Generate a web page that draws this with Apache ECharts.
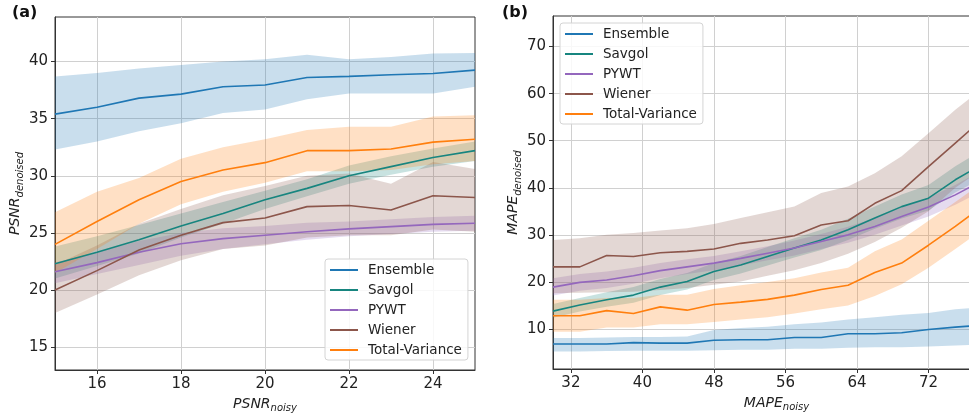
<!DOCTYPE html>
<html><head><meta charset="utf-8">
<script src="https://cdn.jsdelivr.net/npm/echarts@6/dist/echarts.min.js"></script>
<style>html,body{margin:0;padding:0;background:#fff}#c{width:969px;height:415px}</style>
</head><body><div id="c"></div>
<script>
// ---------- shared ----------
const seriesNames = ['Ensemble', 'Savgol', 'PYWT', 'Wiener', 'Total-Variance'];
const seriesColors = ['#1f77b4', '#17857f', '#9467bd', '#8c564b', '#ff7f0e'];

// ---------- panel (a): PSNR ----------
const psnrNoisy = [15, 16, 17, 18, 19, 20, 21, 22, 23, 24, 25];
const psnrTicksX = [16, 18, 20, 22, 24];
const psnrTicksY = [15, 20, 25, 30, 35, 40];

const psnrEnsemble   = [35.4, 36.0, 36.8, 37.15, 37.8, 37.95, 38.6, 38.7, 38.85, 38.95, 39.25];
const psnrEnsembleHi = [38.7, 39.0, 39.4, 39.7, 40.0, 40.2, 40.6, 40.2, 40.4, 40.7, 40.75];
const psnrEnsembleLo = [32.3, 33.0, 33.9, 34.6, 35.5, 35.8, 36.7, 37.2, 37.2, 37.2, 37.8];

const psnrSavgol   = [22.3, 23.3, 24.4, 25.6, 26.7, 27.9, 28.9, 30.0, 30.8, 31.6, 32.2];
const psnrSavgolHi = [23.8, 24.7, 25.7, 26.7, 27.7, 28.7, 29.7, 30.9, 31.7, 32.4, 33.0];
const psnrSavgolLo = [21.0, 22.1, 23.2, 24.6, 25.8, 27.1, 28.2, 29.3, 30.1, 30.8, 31.3];

const psnrPywt   = [21.6, 22.4, 23.3, 24.05, 24.5, 24.8, 25.1, 25.35, 25.55, 25.75, 25.85];
const psnrPywtHi = [22.4, 23.3, 24.3, 25.0, 25.4, 25.6, 25.9, 26.0, 26.2, 26.4, 26.5];
const psnrPywtLo = [20.6, 21.4, 22.2, 23.0, 23.6, 24.0, 24.4, 24.7, 24.9, 25.1, 25.2];

const psnrWiener   = [20.0, 21.7, 23.5, 24.8, 25.9, 26.3, 27.3, 27.4, 27.0, 28.25, 28.1];
const psnrWienerHi = [22.2, 23.9, 25.8, 27.1, 28.3, 29.1, 30.0, 30.2, 29.3, 31.2, 30.6];
const psnrWienerLo = [18.0, 19.6, 21.3, 22.6, 23.6, 23.9, 24.6, 24.8, 24.8, 25.3, 25.1];

const psnrTV   = [24.0, 26.0, 27.9, 29.5, 30.5, 31.15, 32.2, 32.2, 32.35, 32.95, 33.2];
const psnrTVHi = [26.8, 28.6, 29.8, 31.5, 32.5, 33.2, 34.0, 34.3, 34.3, 35.2, 35.3];
const psnrTVLo = [21.5, 23.6, 25.8, 27.5, 28.6, 29.4, 30.4, 30.4, 30.5, 31.0, 31.3];

// ---------- panel (b): MAPE ----------
const mapeNoisy = [30, 33, 36, 39, 42, 45, 48, 51, 54, 57, 60, 63, 66, 69, 72, 75, 78];
const mapeTicksX = [32, 40, 48, 56, 64, 72, 80];
const mapeTicksY = [10, 20, 30, 40, 50, 60, 70];

const mapeEnsemble   = [6.8, 6.8, 6.8, 7.1, 7.0, 7.0, 7.6, 7.7, 7.7, 8.2, 8.2, 9.0, 9.0, 9.2, 9.9, 10.4, 10.8];
const mapeEnsembleHi = [8.1, 8.1, 8.2, 8.3, 8.3, 8.4, 9.8, 10.2, 10.5, 11.0, 11.4, 12.0, 12.5, 13.0, 13.4, 14.2, 14.6];
const mapeEnsembleLo = [5.2, 5.2, 5.3, 5.4, 5.4, 5.4, 5.5, 5.6, 5.6, 5.8, 5.8, 6.0, 6.1, 6.1, 6.3, 6.5, 6.7];

const mapeSavgol   = [13.8, 15.1, 16.2, 17.2, 18.9, 20.1, 22.2, 23.6, 25.4, 27.2, 28.9, 31.1, 33.6, 36.0, 37.8, 41.7, 45.0];
const mapeSavgolHi = [15.3, 16.6, 17.8, 18.9, 20.6, 21.9, 24.0, 25.5, 27.4, 29.3, 31.1, 33.4, 36.0, 38.6, 40.6, 44.6, 48.0];
const mapeSavgolLo = [12.4, 13.7, 14.7, 15.6, 17.2, 18.4, 20.4, 21.8, 23.5, 25.2, 26.8, 28.9, 31.3, 33.5, 35.2, 39.0, 42.0];

const mapePywt   = [18.9, 19.9, 20.4, 21.3, 22.4, 23.2, 24.0, 25.0, 26.1, 27.2, 28.6, 30.0, 31.8, 33.9, 35.9, 38.5, 41.5];
const mapePywtHi = [20.8, 21.7, 22.2, 23.0, 24.0, 24.8, 25.5, 26.5, 27.6, 28.8, 30.2, 31.7, 33.6, 35.8, 37.9, 40.6, 43.7];
const mapePywtLo = [17.1, 18.1, 18.7, 19.6, 20.8, 21.7, 22.5, 23.5, 24.6, 25.6, 27.0, 28.3, 30.0, 32.0, 33.9, 36.4, 39.3];

const mapeWiener   = [23.2, 23.2, 25.6, 25.4, 26.2, 26.5, 27.0, 28.2, 28.9, 29.8, 32.1, 33.0, 36.7, 39.4, 44.5, 49.5, 54.5];
const mapeWienerHi = [28.9, 29.3, 30.0, 30.4, 30.9, 31.4, 32.3, 33.6, 34.8, 36.0, 38.9, 40.3, 43.1, 46.7, 51.6, 56.6, 61.0];
const mapeWienerLo = [17.6, 17.7, 17.8, 17.9, 18.3, 18.7, 19.4, 20.1, 21.3, 22.5, 24.0, 26.0, 28.5, 31.5, 35.0, 40.0, 44.0];

const mapeTV   = [12.8, 12.8, 13.9, 13.3, 14.7, 14.0, 15.2, 15.7, 16.3, 17.2, 18.4, 19.3, 22.0, 24.0, 27.8, 31.8, 36.0];
const mapeTVHi = [16.2, 16.2, 16.6, 16.6, 17.3, 17.3, 18.5, 19.3, 20.0, 20.8, 22.0, 23.0, 26.5, 29.0, 33.0, 37.0, 41.0];
const mapeTVLo = [9.4, 9.4, 10.3, 10.3, 11.0, 11.0, 11.5, 12.0, 12.5, 13.3, 14.2, 15.0, 17.0, 19.5, 23.0, 27.0, 31.0];

// ---------- build ----------
const FONT = 'DejaVu Sans';
const panels = [
  { xs: psnrNoisy, means: [psnrEnsemble, psnrSavgol, psnrPywt, psnrWiener, psnrTV],
    his: [psnrEnsembleHi, psnrSavgolHi, psnrPywtHi, psnrWienerHi, psnrTVHi],
    los: [psnrEnsembleLo, psnrSavgolLo, psnrPywtLo, psnrWienerLo, psnrTVLo] },
  { xs: mapeNoisy, means: [mapeEnsemble, mapeSavgol, mapePywt, mapeWiener, mapeTV],
    his: [mapeEnsembleHi, mapeSavgolHi, mapePywtHi, mapeWienerHi, mapeTVHi],
    los: [mapeEnsembleLo, mapeSavgolLo, mapePywtLo, mapeWienerLo, mapeTVLo] }
];

function band(p, k, idx) {
  const xs = p.xs, hi = p.his[k], lo = p.los[k];
  return {
    type: 'custom', xAxisIndex: idx, yAxisIndex: idx, silent: true, clip: true, z: 1,
    data: xs.map((x, i) => [x, lo[i], hi[i]]),
    encode: { x: 0, y: [1, 2] },
    renderItem: function (params, api) {
      if (params.dataIndex !== 0) return null;
      const top = xs.map((x, i) => api.coord([x, hi[i]]));
      const bot = xs.map((x, i) => api.coord([x, lo[i]])).reverse();
      return { type: 'polygon', shape: { points: top.concat(bot) },
               style: { fill: seriesColors[k], opacity: 0.24 } };
    }
  };
}
const series = [];
panels.forEach((p, idx) => {
  seriesNames.forEach((n, k) => series.push(band(p, k, idx)));
  seriesNames.forEach((n, k) => series.push({
    type: 'line', name: n, xAxisIndex: idx, yAxisIndex: idx, z: 3,
    data: p.xs.map((x, i) => [x, p.means[k][i]]),
    symbol: 'none', showSymbol: false, smooth: false,
    color: seriesColors[k], lineStyle: { width: 1.6, color: seriesColors[k] },
    clip: true
  }));
});

const labelStyle = { color: '#222', fontFamily: FONT, fontSize: 15 };
const splitLine = { show: true, lineStyle: { color: '#d0d0d0', width: 1 } };
const axisLine = { show: true, onZero: false, lineStyle: { color: '#333', width: 1 } };
const richName = {
  m: { fontFamily: FONT, fontSize: 14, fontStyle: 'italic', color: '#222', lineHeight: 18, verticalAlign: 'bottom' },
  s: { fontFamily: FONT, fontSize: 10, fontStyle: 'italic', color: '#222', lineHeight: 12, verticalAlign: 'bottom', padding: [0, 0, -3, 0] }
};
function xAx(idx, min, max, ticks, main) {
  return { type: 'value', gridIndex: idx, min: min, max: max,
    axisLine: axisLine, splitLine: splitLine,
    axisTick: { show: true, length: 4, lineStyle: { color: '#333' }, customValues: ticks },
    axisLabel: Object.assign({ margin: 7, customValues: ticks }, labelStyle),
    name: '{m|' + main + '}{s|noisy}', nameLocation: 'middle', nameGap: 22,
    nameTextStyle: { rich: richName } };
}
function yAx(idx, min, max, ticks, main, gap) {
  return { type: 'value', gridIndex: idx, min: min, max: max,
    axisLine: axisLine, splitLine: splitLine,
    axisTick: { show: true, length: 4, lineStyle: { color: '#333' }, customValues: ticks },
    axisLabel: Object.assign({ margin: 7, customValues: ticks }, labelStyle),
    name: '{m|' + main + '}{s|denoised}', nameLocation: 'middle', nameGap: gap, nameRotate: 90,
    nameTextStyle: { rich: richName } };
}
function legend(left, top) {
  return { orient: 'vertical', left: left, top: top, data: seriesNames,
    icon: 'rect', itemWidth: 28, itemHeight: 2, itemGap: 6, padding: [4, 6, 3, 5],
    backgroundColor: 'rgba(255,255,255,0.85)', borderColor: '#d4d4d4', borderWidth: 1, borderRadius: 3,
    textStyle: { fontFamily: FONT, fontSize: 13.5, lineHeight: 14, color: '#222', padding: [0, 0, 0, 5] },
    selectedMode: false };
}

const chart = echarts.init(document.getElementById('c'), null, { renderer: 'canvas' });
chart.setOption({
  animation: false,
  backgroundColor: '#fff',
  grid: [
    { left: 55, top: 17, width: 420, height: 353, show: true, borderColor: '#333', borderWidth: 1,
      backgroundColor: 'transparent', outerBoundsMode: 'none', containLabel: false },
    { left: 553, top: 16, width: 447, height: 353, show: true, borderColor: '#333', borderWidth: 1,
      backgroundColor: 'transparent', outerBoundsMode: 'none', containLabel: false }
  ],
  xAxis: [xAx(0, 15, 25, psnrTicksX, 'PSNR'), xAx(1, 30, 80, mapeTicksX, 'MAPE')],
  yAxis: [yAx(0, 13, 43.9, psnrTicksY, 'PSNR', 27), yAx(1, 1.5, 76.5, mapeTicksY, 'MAPE', 27)],
  legend: [legend(325, 259), legend(560, 23)],
  graphic: [
    { type: 'text', left: 12, top: 5, style: { text: '(a)', font: 'bold 16px "DejaVu Sans"', fill: '#111' } },
    { type: 'text', left: 502, top: 5, style: { text: '(b)', font: 'bold 16px "DejaVu Sans"', fill: '#111' } }
  ],
  series: series
});
</script>
</body></html>
